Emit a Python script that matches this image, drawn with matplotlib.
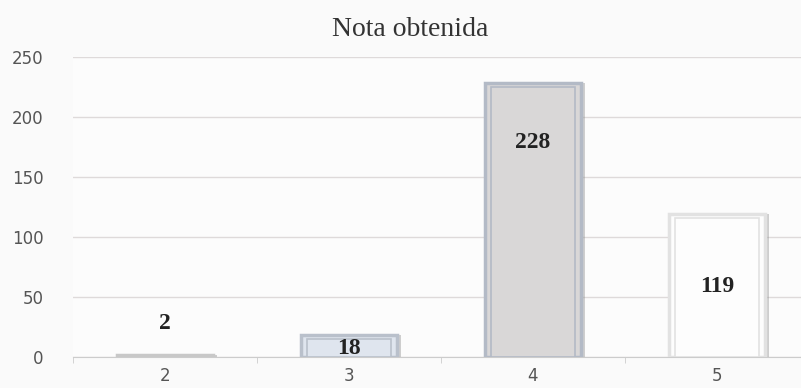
import matplotlib
matplotlib.use('Agg')
import matplotlib.pyplot as plt
import numpy as np

categories = ['2', '3', '4', '5']
counts = [2, 18, 228, 119]
title = 'Nota obtenida'

# estilo de cada barra (relleno, borde)
fills = ['#d9d9d9', '#dfe5ee', '#d9d7d7', '#fdfdfd']
edges = ['#c8c8c8', '#b9c0cb', '#b3bac6', '#e2e2e2']
label_y = [28, 7.5, 179, 59]

fig = plt.figure(figsize=(8.01, 3.88), dpi=100)
fig.patch.set_facecolor('#fafafa')
ax = fig.add_axes([73 / 801, 31 / 388, 736 / 801, 300 / 388])
ax.set_facecolor('#fcfcfc')

x = np.arange(len(categories))
w = 0.52

# sombra, barra exterior y marco interior
ax.bar(x + 0.025, counts, width=w, color='#8a8a8a', alpha=0.4, zorder=2)
ax.bar(x, counts, width=w, color=fills, edgecolor=edges, linewidth=2.5, zorder=3)
inner = [max(c - 3, 0) for c in counts]
ax.bar(x, inner, width=w - 0.06, color=fills, edgecolor=edges, linewidth=1.2, zorder=4)

for xi, c, ly in zip(x, counts, label_y):
    ax.text(xi, ly, str(c), ha='center', va='center', fontsize=17,
            fontweight='bold', family='Liberation Serif', color='#222222', zorder=5)

ax.set_xlim(-0.5, 3.5)
ax.set_ylim(0, 250)
ax.set_yticks(range(0, 251, 50))
ax.set_xticks(x)
ax.set_xticklabels(categories)
ax.set_xticks(np.arange(-0.5, 3.6, 1), minor=True)
ax.tick_params(axis='x', which='major', length=0, pad=7)
ax.tick_params(axis='x', which='minor', length=4, color='#cccccc')
ax.tick_params(axis='y', length=0, pad=21)
for lab in ax.get_xticklabels() + ax.get_yticklabels():
    lab.set_fontsize(12)
    lab.set_color('#555555')
    lab.set_family('DejaVu Sans')

ax.grid(axis='y', color='#dedada', linewidth=1)
ax.set_axisbelow(True)
for s in ['top', 'right', 'left']:
    ax.spines[s].set_visible(False)
ax.spines['bottom'].set_color('#cccccc')

fig.text(410 / 801, 1 - 30 / 388, title, ha='center', va='center',
         fontsize=20, family='Liberation Serif', color='#333333')

plt.savefig('out.png', dpi=100, facecolor=fig.get_facecolor())
plt.close()
